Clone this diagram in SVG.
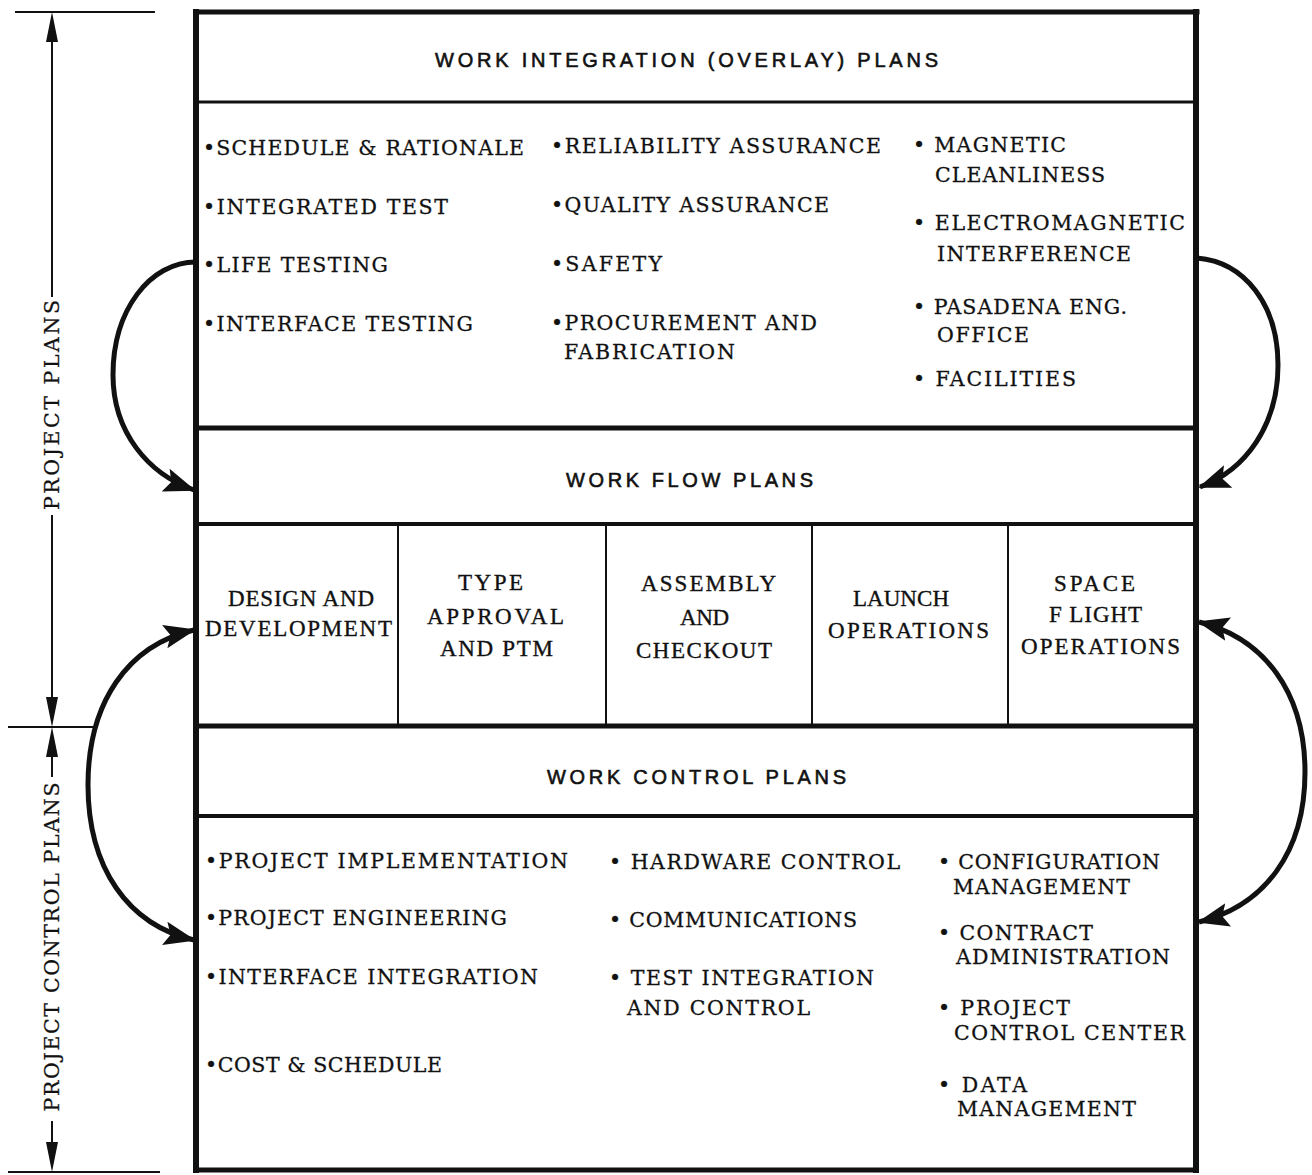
<svg xmlns="http://www.w3.org/2000/svg" width="1312" height="1175" viewBox="0 0 1312 1175">
  <style>
    .hdr { font-family: "Liberation Sans", Arial, sans-serif; font-size: 20px; fill: #111; stroke: #111; stroke-width: 0.6; }
    .itm { font-family: "DejaVu Serif", "Liberation Serif", serif; font-size: 20.5px; fill: #111; stroke: #111; stroke-width: 0.3; }
    .flw { font-family: "Liberation Serif", "Times New Roman", serif; font-size: 23px; fill: #111; stroke: #111; stroke-width: 0.35; }
    .dim { font-family: "DejaVu Serif", "Liberation Serif", serif; font-size: 20.5px; fill: #111; stroke: #111; stroke-width: 0.25; }
    .frame { stroke: #111; fill: none; stroke-linecap: square; }
    .conn { stroke: #111; stroke-width: 5; fill: none; }
    .dline { stroke: #111; stroke-width: 2; fill: none; }
    .head { fill: #111; }
  </style>
  <defs>
    <marker id="arrow" markerUnits="userSpaceOnUse" markerWidth="34" markerHeight="26" refX="30" refY="13" orient="auto-start-reverse">
      <path d="M0,1 L32,13 L0,25 L6,13 z" fill="#111"/>
    </marker>
  </defs>

  <rect width="1312" height="1175" fill="#ffffff"/>

  <!-- outer frame and band dividers -->
  <g id="frame">
    <line class="frame" x1="196" y1="12" x2="1197" y2="12" stroke-width="5"/>
    <line class="frame" x1="196" y1="12" x2="196" y2="1170" stroke-width="6"/>
    <line class="frame" x1="1196" y1="12" x2="1196" y2="1170" stroke-width="6"/>
    <line class="frame" x1="196" y1="1170" x2="1196" y2="1170" stroke-width="5"/>
    <line class="frame" x1="196" y1="102" x2="1196" y2="102" stroke-width="3"/>
    <line class="frame" x1="196" y1="428" x2="1196" y2="428" stroke-width="5"/>
    <line class="frame" x1="196" y1="524" x2="1196" y2="524" stroke-width="4"/>
    <line class="frame" x1="196" y1="726" x2="1196" y2="726" stroke-width="5"/>
    <line class="frame" x1="196" y1="816" x2="1196" y2="816" stroke-width="4"/>
    <line class="frame" x1="398" y1="524" x2="398" y2="726" stroke-width="2"/>
    <line class="frame" x1="606" y1="524" x2="606" y2="726" stroke-width="2"/>
    <line class="frame" x1="812" y1="524" x2="812" y2="726" stroke-width="2"/>
    <line class="frame" x1="1008" y1="524" x2="1008" y2="726" stroke-width="2"/>
  </g>

  <!-- work integration band -->
  <g id="integration-header">
    <text class="hdr" x="435" y="67" textLength="503" lengthAdjust="spacing">WORK INTEGRATION (OVERLAY) PLANS</text>
  </g>
  <g id="integration-items">
    <text class="itm" x="203" y="155" textLength="321" lengthAdjust="spacing">•SCHEDULE &amp; RATIONALE</text>
    <text class="itm" x="203" y="214" textLength="245" lengthAdjust="spacing">•INTEGRATED TEST</text>
    <text class="itm" x="203" y="272" textLength="185" lengthAdjust="spacing">•LIFE TESTING</text>
    <text class="itm" x="203" y="331" textLength="270" lengthAdjust="spacing">•INTERFACE TESTING</text>

    <text class="itm" x="551" y="153" textLength="330" lengthAdjust="spacing">•RELIABILITY ASSURANCE</text>
    <text class="itm" x="551" y="212" textLength="278" lengthAdjust="spacing">•QUALITY ASSURANCE</text>
    <text class="itm" x="551" y="271" textLength="111" lengthAdjust="spacing">•SAFETY</text>
    <text class="itm" x="551" y="330" textLength="266" lengthAdjust="spacing">•PROCUREMENT AND</text>
    <text class="itm" x="564" y="359" textLength="171" lengthAdjust="spacing">FABRICATION</text>

    <text class="itm" x="913" y="152" textLength="153" lengthAdjust="spacing">• MAGNETIC</text>
    <text class="itm" x="935" y="182" textLength="170" lengthAdjust="spacing">CLEANLINESS</text>
    <text class="itm" x="913" y="230" textLength="272" lengthAdjust="spacing">• ELECTROMAGNETIC</text>
    <text class="itm" x="937" y="261" textLength="194" lengthAdjust="spacing">INTERFERENCE</text>
    <text class="itm" x="913" y="314" textLength="214" lengthAdjust="spacing">• PASADENA ENG.</text>
    <text class="itm" x="937" y="342" textLength="92" lengthAdjust="spacing">OFFICE</text>
    <text class="itm" x="913" y="386" textLength="163" lengthAdjust="spacing">• FACILITIES</text>
  </g>

  <!-- work flow band -->
  <g id="flow-header">
    <text class="hdr" x="566" y="487" textLength="247" lengthAdjust="spacing">WORK FLOW PLANS</text>
  </g>
  <g id="flow-design">
    <text class="flw" x="228" y="606" textLength="146" lengthAdjust="spacing">DESIGN AND</text>
    <text class="flw" x="205" y="636" textLength="187" lengthAdjust="spacing">DEVELOPMENT</text>
  </g>
  <g id="flow-type-approval">
    <text class="flw" x="458" y="590" textLength="65" lengthAdjust="spacing">TYPE</text>
    <text class="flw" x="427" y="624" textLength="137" lengthAdjust="spacing">APPROVAL</text>
    <text class="flw" x="440" y="656" textLength="113" lengthAdjust="spacing">AND PTM</text>
  </g>
  <g id="flow-assembly">
    <text class="flw" x="641" y="591" textLength="135" lengthAdjust="spacing">ASSEMBLY</text>
    <text class="flw" x="680" y="625" textLength="49" lengthAdjust="spacing">AND</text>
    <text class="flw" x="636" y="658" textLength="136" lengthAdjust="spacing">CHECKOUT</text>
  </g>
  <g id="flow-launch">
    <text class="flw" x="853" y="606" textLength="96" lengthAdjust="spacing">LAUNCH</text>
    <text class="flw" x="828" y="638" textLength="161" lengthAdjust="spacing">OPERATIONS</text>
  </g>
  <g id="flow-space-flight">
    <text class="flw" x="1054" y="591" textLength="81" lengthAdjust="spacing">SPACE</text>
    <text class="flw" x="1049" y="622" textLength="93" lengthAdjust="spacing">F LIGHT</text>
    <text class="flw" x="1021" y="654" textLength="159" lengthAdjust="spacing">OPERATIONS</text>
  </g>

  <!-- work control band -->
  <g id="control-header">
    <text class="hdr" x="547" y="784" textLength="299" lengthAdjust="spacing">WORK CONTROL PLANS</text>
  </g>
  <g id="control-items">
    <text class="itm" x="205" y="868" textLength="363" lengthAdjust="spacing">•PROJECT IMPLEMENTATION</text>
    <text class="itm" x="205" y="925" textLength="302" lengthAdjust="spacing">•PROJECT ENGINEERING</text>
    <text class="itm" x="205" y="984" textLength="333" lengthAdjust="spacing">•INTERFACE INTEGRATION</text>
    <text class="itm" x="205" y="1072" textLength="237" lengthAdjust="spacing">•COST &amp; SCHEDULE</text>

    <text class="itm" x="609" y="869" textLength="291" lengthAdjust="spacing">• HARDWARE CONTROL</text>
    <text class="itm" x="609" y="927" textLength="248" lengthAdjust="spacing">• COMMUNICATIONS</text>
    <text class="itm" x="609" y="985" textLength="265" lengthAdjust="spacing">• TEST INTEGRATION</text>
    <text class="itm" x="627" y="1015" textLength="183" lengthAdjust="spacing">AND CONTROL</text>

    <text class="itm" x="938" y="869" textLength="222" lengthAdjust="spacing">• CONFIGURATION</text>
    <text class="itm" x="953" y="894" textLength="177" lengthAdjust="spacing">MANAGEMENT</text>
    <text class="itm" x="938" y="940" textLength="155" lengthAdjust="spacing">• CONTRACT</text>
    <text class="itm" x="956" y="964" textLength="214" lengthAdjust="spacing">ADMINISTRATION</text>
    <text class="itm" x="938" y="1015" textLength="132" lengthAdjust="spacing">• PROJECT</text>
    <text class="itm" x="954" y="1040" textLength="231" lengthAdjust="spacing">CONTROL CENTER</text>
    <text class="itm" x="938" y="1092" textLength="89" lengthAdjust="spacing">• DATA</text>
    <text class="itm" x="957" y="1116" textLength="179" lengthAdjust="spacing">MANAGEMENT</text>
  </g>

  <!-- dimension scale on the left -->
  <g id="dim-project-plans">
    <line class="dline" x1="15" y1="12" x2="155" y2="12"/>
    <line class="dline" x1="52" y1="38" x2="52" y2="297"/>
    <polygon class="head" points="52,12 46,42 58,42"/>
    <text class="dim" transform="translate(59,405) rotate(-90)" text-anchor="middle" textLength="210" lengthAdjust="spacing">PROJECT PLANS</text>
    <line class="dline" x1="52" y1="515" x2="52" y2="700"/>
    <polygon class="head" points="52,727 46,697 58,697"/>
  </g>
  <g id="dim-project-control-plans">
    <line class="dline" x1="8" y1="727" x2="93" y2="727"/>
    <polygon class="head" points="52,727 46,757 58,757"/>
    <line class="dline" x1="52" y1="755" x2="52" y2="777"/>
    <text class="dim" transform="translate(59,947) rotate(-90)" text-anchor="middle" textLength="329" lengthAdjust="spacing">PROJECT CONTROL PLANS</text>
    <line class="dline" x1="52" y1="1121" x2="52" y2="1145"/>
    <polygon class="head" points="52,1172 46,1142 58,1142"/>
    <line class="dline" x1="8" y1="1172" x2="160" y2="1172"/>
  </g>

  <!-- curved connectors between bands -->
  <g id="connectors">
    <path class="conn" d="M 196 262 C 150 262, 113 310, 113 375 C 113 432, 148 474, 194 490" marker-end="url(#arrow)"/>
    <path class="conn" d="M 1197 258 C 1245 262, 1278 305, 1278 365 C 1278 425, 1246 470, 1200 487" marker-end="url(#arrow)"/>
    <path class="conn" d="M 194 630 C 128 645, 88 702, 88 785 C 88 868, 128 925, 194 940" marker-start="url(#arrow)" marker-end="url(#arrow)"/>
    <path class="conn" d="M 1199 622 C 1264 638, 1305 692, 1305 772 C 1305 853, 1264 906, 1199 922" marker-start="url(#arrow)" marker-end="url(#arrow)"/>
  </g>
</svg>
